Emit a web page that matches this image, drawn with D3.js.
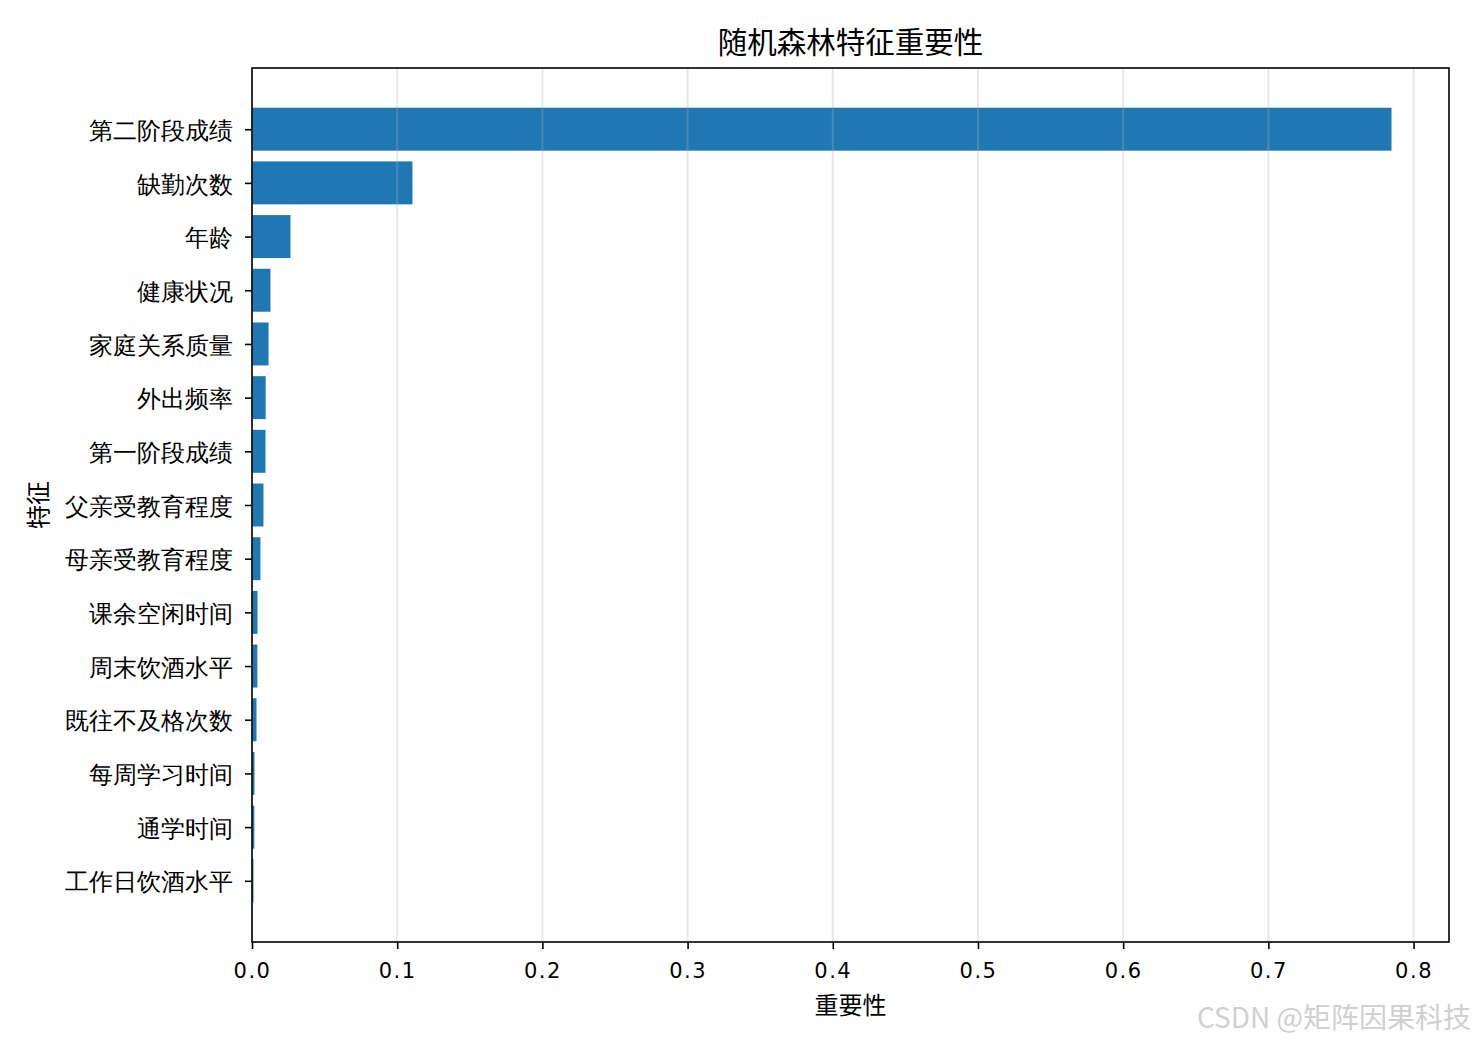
<!DOCTYPE html>
<html>
<head>
<meta charset="utf-8">
<script src="https://cdn.jsdelivr.net/npm/d3@7"></script>
<style>
  body { margin: 0; background: #fff; }
  svg { display: block; font-family: "Noto Sans CJK SC", "DejaVu Sans", sans-serif; }
</style>
</head>
<body>
<script>
// feature names, top to bottom
const features = ['第二阶段成绩', '缺勤次数', '年龄', '健康状况', '家庭关系质量', '外出频率',
  '第一阶段成绩', '父亲受教育程度', '母亲受教育程度', '课余空闲时间', '周末饮酒水平',
  '既往不及格次数', '每周学习时间', '通学时间', '工作日饮酒水平'];
const importance = [0.7848, 0.1105, 0.0265, 0.0127, 0.0114, 0.0094, 0.0093, 0.0079,
  0.0058, 0.0038, 0.0037, 0.0031, 0.0017, 0.0016, 0.0010];
const xTicks = [0, 0.1, 0.2, 0.3, 0.4, 0.5, 0.6, 0.7, 0.8];

const W = 1475, H = 1044;
const mLeft = 252, mRight = 1449, mTop = 68, mBottom = 942;

const svg = d3.select('body').append('svg').attr('width', W).attr('height', H);

const x = d3.scaleLinear().domain([0, 0.8244]).range([mLeft, mRight]);
const y = d3.scaleLinear().domain([-1.14, features.length - 1 + 1.14]).range([mTop, mBottom]);
const barH = y(0.8) - y(0);

// bars
svg.selectAll('rect.bar')
  .data(importance)
  .enter()
  .append('rect')
    .attr('class', 'bar')
    .attr('x', x(0))
    .attr('y', (d, i) => y(i - 0.4))
    .attr('width', d => x(d) - x(0))
    .attr('height', barH)
    .attr('fill', '#1f77b4');

// grid on top of bars, faint
svg.append('g')
  .selectAll('line')
  .data(xTicks)
  .enter()
  .append('line')
    .attr('x1', d => x(d)).attr('x2', d => x(d))
    .attr('y1', mTop).attr('y2', mBottom)
    .attr('stroke', '#b0b0b0')
    .attr('stroke-opacity', 0.3)
    .attr('stroke-width', 2);

// axes
const xAxis = d3.axisBottom(x).tickValues(xTicks).tickFormat(d3.format('.1f')).tickSize(7).tickPadding(14);
const gx = svg.append('g').attr('transform', `translate(0,${mBottom})`).call(xAxis);
gx.select('.domain').remove();
gx.selectAll('line').attr('stroke', '#000').attr('stroke-width', 1.6);
gx.selectAll('text').attr('font-size', 21).attr('fill', '#000').style('font-family', '"DejaVu Sans", sans-serif').attr('letter-spacing', 1.5);

const yAxis = d3.axisLeft(y).tickValues(d3.range(features.length)).tickFormat(i => features[i]).tickSize(7).tickPadding(12);
const gy = svg.append('g').attr('transform', `translate(${mLeft},0)`).call(yAxis);
gy.select('.domain').remove();
gy.selectAll('line').attr('stroke', '#000').attr('stroke-width', 1.6);
gy.selectAll('text').attr('font-size', 24).attr('fill', '#000').attr('dy', '0.38em');

// frame
svg.append('rect')
  .attr('x', mLeft).attr('y', mTop)
  .attr('width', mRight - mLeft).attr('height', mBottom - mTop)
  .attr('fill', 'none').attr('stroke', '#000').attr('stroke-width', 1.6);

// titles
svg.append('text').text('随机森林特征重要性')
  .attr('x', (mLeft + mRight) / 2).attr('y', 53)
  .attr('text-anchor', 'middle').attr('font-size', 29.5).attr('fill', '#000');

svg.append('text').text('重要性')
  .attr('x', (mLeft + mRight) / 2).attr('y', 1014)
  .attr('text-anchor', 'middle').attr('font-size', 24).attr('fill', '#000');

svg.append('text').text('特征')
  .attr('transform', `translate(47,${(mTop + mBottom) / 2}) rotate(-90)`)
  .attr('text-anchor', 'middle').attr('font-size', 24).attr('fill', '#000');

// watermark
svg.append('text').text('CSDN @矩阵因果科技')
  .attr('x', 1471).attr('y', 1028)
  .attr('text-anchor', 'end').attr('font-size', 28).attr('fill', '#d0d0d0');
</script>
</body>
</html>
